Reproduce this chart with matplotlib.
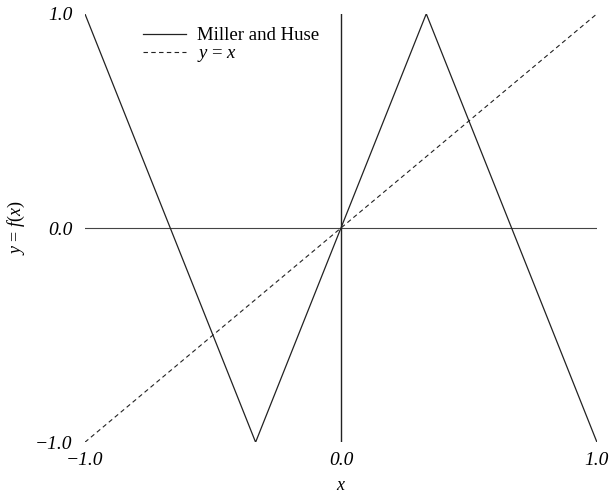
import matplotlib.pyplot as plt

# piecewise-linear map (Miller and Huse)
map_x = [-1.0, -1.0 / 3.0, 1.0 / 3.0, 1.0]
map_y = [1.0, -1.0, 1.0, -1.0]
diag = [-1.0, 1.0]
ticks = [-1.0, 0.0, 1.0]
tick_labels = ["\u22121.0", "0.0", "1.0"]

plt.rcParams["font.family"] = ["Liberation Serif", "DejaVu Serif"]
plt.rcParams["mathtext.fontset"] = "custom"
plt.rcParams["mathtext.rm"] = "Liberation Serif"
plt.rcParams["mathtext.it"] = "Liberation Serif:italic"

fig = plt.figure(figsize=(6.11, 4.93), dpi=100)
ax = fig.add_axes([0.139, 0.103, 0.838, 0.869])

ax.axhline(0.0, color="#444444", linewidth=0.8, zorder=1)
ax.axvline(0.0, color="#222222", linewidth=1.0, zorder=1)
ax.plot(map_x, map_y, color="#222222", linewidth=0.9, label="Miller and Huse")
ax.plot(diag, diag, color="#222222", linewidth=0.8, linestyle=(0, (4, 3)), label="$y$ = $x$")

ax.set_xlim(-1, 1)
ax.set_ylim(-1, 1)
for spine in ax.spines.values():
    spine.set_visible(False)
ax.set_xticks(ticks)
ax.set_yticks(ticks)
ax.set_xticklabels(tick_labels, fontstyle="italic", fontsize=14)
ax.set_yticklabels(tick_labels, fontstyle="italic", fontsize=14)
ax.tick_params(length=0)
ax.tick_params(axis="x", pad=7)
ax.tick_params(axis="y", pad=9)

ax.set_xlabel("$x$", fontsize=13)
ax.set_ylabel("$y$ = $f$($x$)", fontsize=13)
ax.xaxis.set_label_coords(0.5, -0.082)
ax.yaxis.set_label_coords(-0.113, 0.5)

ax.legend(
    loc="upper left",
    bbox_to_anchor=(0.08, 1.008),
    frameon=False,
    fontsize=13.5,
    handlelength=2.3,
    handletextpad=0.6,
    labelspacing=0.05,
)

fig.savefig("out.png")
